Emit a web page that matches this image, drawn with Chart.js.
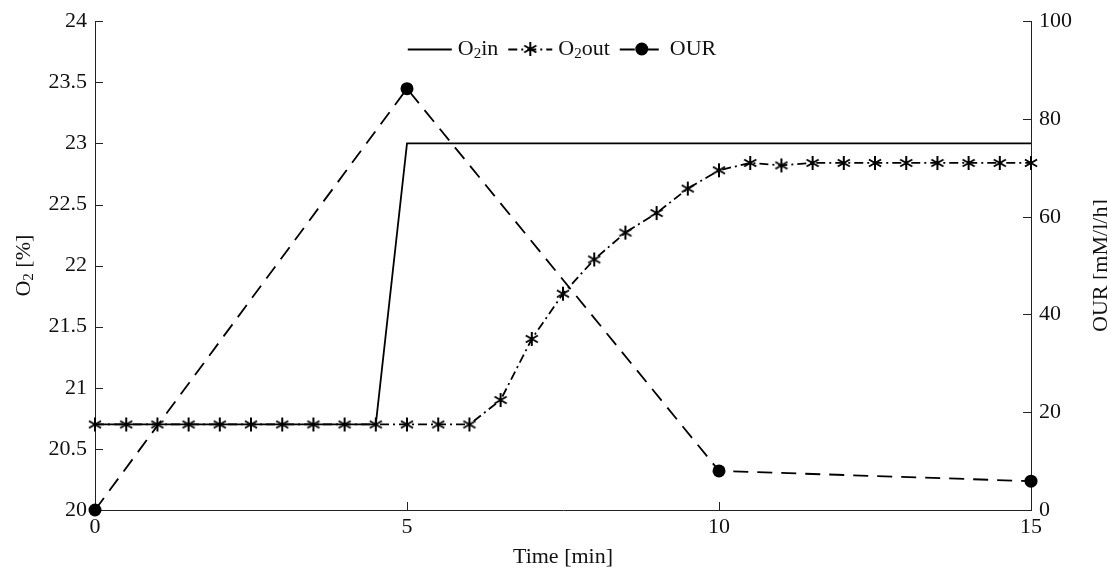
<!DOCTYPE html>
<html>
<head>
<meta charset="utf-8">
<script src="https://cdn.jsdelivr.net/npm/chart.js@4/dist/chart.umd.min.js"></script>
<style>
  html, body { margin: 0; padding: 0; background: #fff; }
  #wrap { width: 1107px; height: 578px; position: relative; }
</style>
</head>
<body>
<div id="wrap"><canvas id="c"></canvas></div>
<script>
// Oxygen inlet step (time in min, O2 in %)
const o2inTime = [0, 4.5, 5, 15];
const o2inValues = [20.7, 20.7, 23, 23];

// Measured outlet oxygen, sampled every half minute
const o2outTime = [0, 0.5, 1, 1.5, 2, 2.5, 3, 3.5, 4, 4.5, 5, 5.5, 6, 6.5, 7, 7.5, 8,
                   8.5, 9, 9.5, 10, 10.5, 11, 11.5, 12, 12.5, 13, 13.5, 14, 14.5, 15];
const o2outValues = [20.7, 20.7, 20.7, 20.7, 20.7, 20.7, 20.7, 20.7, 20.7, 20.7, 20.7, 20.7, 20.7,
                     20.9, 21.4, 21.77, 22.05, 22.27, 22.43, 22.63, 22.78, 22.84, 22.82, 22.84,
                     22.84, 22.84, 22.84, 22.84, 22.84, 22.84, 22.84];

// Oxygen uptake rate (mM/l/h)
const ourTime = [0, 5, 10, 15];
const ourValues = [0, 86.2, 8, 5.9];

// Axis ranges and tick steps
const xRange = [0, 15], xStep = 5;
const o2Range = [20, 24], o2Step = 0.5;
const ourRange = [0, 100], ourStep = 20;

const FONT = "'Liberation Serif', 'DejaVu Serif', serif";
const INK = '#111';
const LINE_W = 1.8;

function pairs(xs, ys) { return xs.map((x, i) => ({ x, y: ys[i] })); }

// six-spoke asterisk marker
function asterisk(r, lw) {
  const s = Math.ceil(2 * r + lw + 2);
  const c = document.createElement('canvas');
  c.width = c.height = s;
  const g = c.getContext('2d');
  g.strokeStyle = '#000';
  g.lineWidth = lw;
  const m = s / 2;
  g.beginPath();
  for (const deg of [90, 30, 150]) {
    const a = deg * Math.PI / 180;
    g.moveTo(m - r * Math.cos(a), m - r * Math.sin(a));
    g.lineTo(m + r * Math.cos(a), m + r * Math.sin(a));
  }
  g.stroke();
  return c;
}
const starMark = asterisk(7, 2);

const DASH_OUT = [9, 4, 2, 4];
const DASH_OUR = [15, 9];

// text with subscript segments: parts = [[text, isSub], ...]
function richWidth(ctx, parts, size) {
  let w = 0;
  for (const [t, sub] of parts) {
    ctx.font = (sub ? Math.round(size * 0.7) : size) + 'px ' + FONT;
    w += ctx.measureText(t).width;
  }
  return w;
}
function drawRich(ctx, parts, x, y, size) {
  let cx = x;
  ctx.textBaseline = 'middle';
  ctx.textAlign = 'left';
  for (const [t, sub] of parts) {
    ctx.font = (sub ? Math.round(size * 0.7) : size) + 'px ' + FONT;
    ctx.fillText(t, cx, sub ? y + size * 0.25 : y);
    cx += ctx.measureText(t).width;
  }
  return cx;
}

// inward tick marks on the three axes
const innerTicks = {
  id: 'innerTicks',
  beforeDatasetsDraw(chart) {
    const { ctx, chartArea: a, scales } = chart;
    const L = 8;
    ctx.save();
    ctx.strokeStyle = '#222';
    ctx.lineWidth = 1;
    ctx.beginPath();
    scales.x.ticks.forEach(t => {
      const p = Math.round(scales.x.getPixelForValue(t.value)) + 0.5;
      ctx.moveTo(p, a.bottom); ctx.lineTo(p, a.bottom - L);
    });
    scales.y.ticks.forEach(t => {
      const p = Math.round(scales.y.getPixelForValue(t.value)) + 0.5;
      ctx.moveTo(a.left, p); ctx.lineTo(a.left + L, p);
    });
    scales.y2.ticks.forEach(t => {
      const p = Math.round(scales.y2.getPixelForValue(t.value)) + 0.5;
      ctx.moveTo(a.right, p); ctx.lineTo(a.right - L, p);
    });
    ctx.stroke();
    ctx.restore();
  }
};

// vertical axis titles (with subscripts) and the legend row
const annotations = {
  id: 'annotations',
  afterDraw(chart) {
    const { ctx, chartArea: a } = chart;
    const size = 22;
    const midY = (a.top + a.bottom) / 2;
    ctx.save();
    ctx.fillStyle = INK;

    const leftTitle = [['O', false], ['2', true], [' [%]', false]];
    ctx.save();
    ctx.translate(24, midY);
    ctx.rotate(-Math.PI / 2);
    drawRich(ctx, leftTitle, -richWidth(ctx, leftTitle, size) / 2, 0, size);
    ctx.restore();

    const rightTitle = [['OUR [mM/l/h]', false]];
    ctx.save();
    ctx.translate(1101, midY);
    ctx.rotate(-Math.PI / 2);
    drawRich(ctx, rightTitle, -richWidth(ctx, rightTitle, size) / 2, 0, size);
    ctx.restore();

    // legend
    const ds = chart.data.datasets;
    const entries = [
      { parts: [['O', false], ['2', true], ['in', false]], ds: ds[0], mark: null },
      { parts: [['O', false], ['2', true], ['out', false]], ds: ds[1], mark: 'star' },
      { parts: [['OUR', false]], ds: ds[2], mark: 'dot' }
    ];
    const sample = 44, gapIn = 6, gapOut = 10, ly = 49;
    let total = 0;
    entries.forEach((e, i) => {
      total += sample + gapIn + richWidth(ctx, e.parts, size) + (i < entries.length - 1 ? gapOut : 0);
    });
    let x = 562 - total / 2;
    entries.forEach(e => {
      ctx.save();
      ctx.strokeStyle = '#000';
      ctx.lineWidth = e.ds.borderWidth;
      ctx.setLineDash(e.ds.borderDash || []);
      ctx.beginPath();
      ctx.moveTo(x, ly + 0.5); ctx.lineTo(x + sample, ly + 0.5);
      ctx.stroke();
      ctx.setLineDash([]);
      const cx = x + sample / 2;
      if (e.mark === 'star') {
        ctx.drawImage(starMark, cx - starMark.width / 2, ly - starMark.height / 2);
      } else if (e.mark === 'dot') {
        ctx.fillStyle = '#000';
        ctx.beginPath(); ctx.arc(cx, ly, 6.5, 0, Math.PI * 2); ctx.fill();
      }
      ctx.restore();
      x += sample + gapIn;
      ctx.fillStyle = INK;
      x = drawRich(ctx, e.parts, x, ly, size) + gapOut;
    });
    ctx.restore();
  }
};

Chart.defaults.font.family = FONT;
Chart.defaults.font.size = 22;
Chart.defaults.color = INK;

const plainNumber = v => String(Number(v.toFixed(2)));

new Chart(document.getElementById('c'), {
  type: 'line',
  data: {
    datasets: [
      {
        label: 'O2in',
        data: pairs(o2inTime, o2inValues),
        yAxisID: 'y',
        borderColor: '#000',
        borderWidth: LINE_W,
        pointRadius: 0,
        tension: 0,
        clip: false
      },
      {
        label: 'O2out',
        data: pairs(o2outTime, o2outValues),
        yAxisID: 'y',
        borderColor: '#000',
        borderWidth: LINE_W,
        borderDash: DASH_OUT,
        pointStyle: starMark,
        pointRadius: 7,
        tension: 0,
        clip: false
      },
      {
        label: 'OUR',
        data: pairs(ourTime, ourValues),
        yAxisID: 'y2',
        borderColor: '#000',
        borderWidth: LINE_W,
        borderDash: DASH_OUR,
        pointStyle: 'circle',
        pointRadius: 6.5,
        pointBackgroundColor: '#000',
        pointBorderColor: '#000',
        pointBorderWidth: 0,
        tension: 0,
        clip: false
      }
    ]
  },
  options: {
    responsive: true,
    maintainAspectRatio: false,
    animation: false,
    layout: { padding: { top: 17, left: 0, right: 0, bottom: 0 } },
    plugins: {
      legend: { display: false },
      tooltip: { enabled: false }
    },
    scales: {
      x: {
        type: 'linear',
        min: xRange[0], max: xRange[1],
        afterFit(s) { s.height = 68; },
        grid: { display: false, drawTicks: false },
        border: { display: true, color: '#222', width: 1 },
        ticks: { stepSize: xStep, padding: 4, maxRotation: 0, callback: plainNumber },
        title: { display: true, text: 'Time [min]', padding: { top: 0, bottom: 8 } }
      },
      y: {
        type: 'linear',
        position: 'left',
        min: o2Range[0], max: o2Range[1],
        afterFit(s) { s.width = 95; },
        grid: { display: false, drawTicks: false },
        border: { display: true, color: '#222', width: 1 },
        ticks: { stepSize: o2Step, padding: 8, callback: plainNumber }
      },
      y2: {
        type: 'linear',
        position: 'right',
        min: ourRange[0], max: ourRange[1],
        afterFit(s) { s.width = 76; },
        grid: { display: false, drawTicks: false },
        border: { display: true, color: '#222', width: 1 },
        ticks: { stepSize: ourStep, padding: 8, callback: plainNumber }
      }
    }
  },
  plugins: [innerTicks, annotations]
});
</script>
</body>
</html>
